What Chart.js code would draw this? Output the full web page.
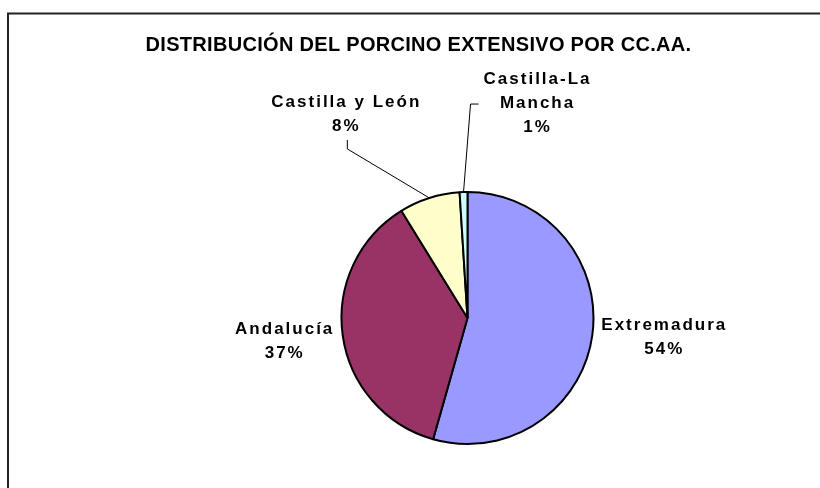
<!DOCTYPE html>
<html>
<head>
<meta charset="utf-8">
<script src="https://cdn.jsdelivr.net/npm/chart.js@4/dist/chart.umd.min.js"></script>
<style>
    html, body { margin: 0; padding: 0; background: #ffffff; }
    canvas { display: block; }
</style>
</head>
<body>
<canvas id="porcinoChart" width="820" height="488"></canvas>
<script>
// Chart data
const chartTitle = 'DISTRIBUCIÓN DEL PORCINO EXTENSIVO POR CC.AA.';
const regions = ['Extremadura', 'Andalucía', 'Castilla y León', 'Castilla-La Mancha'];
const labelLines = [['Extremadura'], ['Andalucía'], ['Castilla y León'], ['Castilla-La', 'Mancha']];
const shares = [54.4, 36.8, 7.8, 1.0];
const sliceColors = ['#9999FF', '#993366', '#FFFFCC', '#CCFFFF'];

// Where each label sits, relative to the middle of its slice edge
const labelNudge = [
    { dx: 71, dy: 2 },
    { dx: -59, dy: 6 },
    { dx: -84, dy: -84 },
    { dx: 73, dy: -89 }
];
// Leader lines (elbow + end), relative to the label centre; null = none
const leaders = [
    null,
    null,
    { elbow: [2, 35], end: [2, 26] },
    { elbow: [-66, 1], end: [-58, 1] }
];

// Frame and title
const framePlugin = {
    id: 'framePlugin',
    afterDraw(chart) {
        const ctx = chart.ctx;
        ctx.save();
        ctx.strokeStyle = '#222222';
        ctx.lineWidth = 2;
        ctx.strokeRect(8, 13.5, 840, 500);

        ctx.fillStyle = '#000000';
        ctx.font = "bold 20px 'Liberation Sans', Arial, sans-serif";
        ctx.letterSpacing = '0.3px';
        ctx.textAlign = 'center';
        ctx.textBaseline = 'alphabetic';
        ctx.fillText(chartTitle, 418.5, 51);
        ctx.restore();
    }
};

// Excel-like outside labels with leader lines
const sliceLabels = {
    id: 'sliceLabels',
    afterDatasetsDraw(chart) {
        const ctx = chart.ctx;
        const meta = chart.getDatasetMeta(0);
        const values = chart.data.datasets[0].data;
        const total = values.reduce((a, b) => a + b, 0);
        const lineGap = 24;

        ctx.save();
        meta.data.forEach((arc, i) => {
            const mid = (arc.startAngle + arc.endAngle) / 2;
            const ex = arc.x + Math.cos(mid) * arc.outerRadius;
            const ey = arc.y + Math.sin(mid) * arc.outerRadius;
            const cx = ex + labelNudge[i].dx;
            const cy = ey + labelNudge[i].dy;

            const lead = leaders[i];
            if (lead) {
                ctx.strokeStyle = '#000000';
                ctx.lineWidth = 1;
                ctx.beginPath();
                ctx.moveTo(ex, ey);
                ctx.lineTo(cx + lead.elbow[0], cy + lead.elbow[1]);
                ctx.lineTo(cx + lead.end[0], cy + lead.end[1]);
                ctx.stroke();
            }

            const lines = labelLines[i].concat([Math.round(values[i] / total * 100) + '%']);
            ctx.fillStyle = '#000000';
            ctx.font = "bold 17px 'Liberation Sans', Arial, sans-serif";
            ctx.letterSpacing = '2px';
            ctx.textAlign = 'center';
            ctx.textBaseline = 'middle';
            const top = cy - (lines.length - 1) * lineGap / 2;
            lines.forEach((txt, k) => {
                ctx.fillText(txt, cx + 1, top + k * lineGap);
            });
        });
        ctx.restore();
    }
};

new Chart(document.getElementById('porcinoChart'), {
    type: 'pie',
    data: {
        labels: regions,
        datasets: [{
            data: shares,
            backgroundColor: sliceColors,
            borderColor: '#000000',
            borderWidth: 2
        }]
    },
    options: {
        responsive: false,
        animation: false,
        layout: {
            padding: { top: 191, bottom: 43, left: 340.5, right: 225.5 }
        },
        plugins: {
            legend: { display: false },
            tooltip: { enabled: false },
            title: { display: false }
        }
    },
    plugins: [framePlugin, sliceLabels]
});
</script>
</body>
</html>
